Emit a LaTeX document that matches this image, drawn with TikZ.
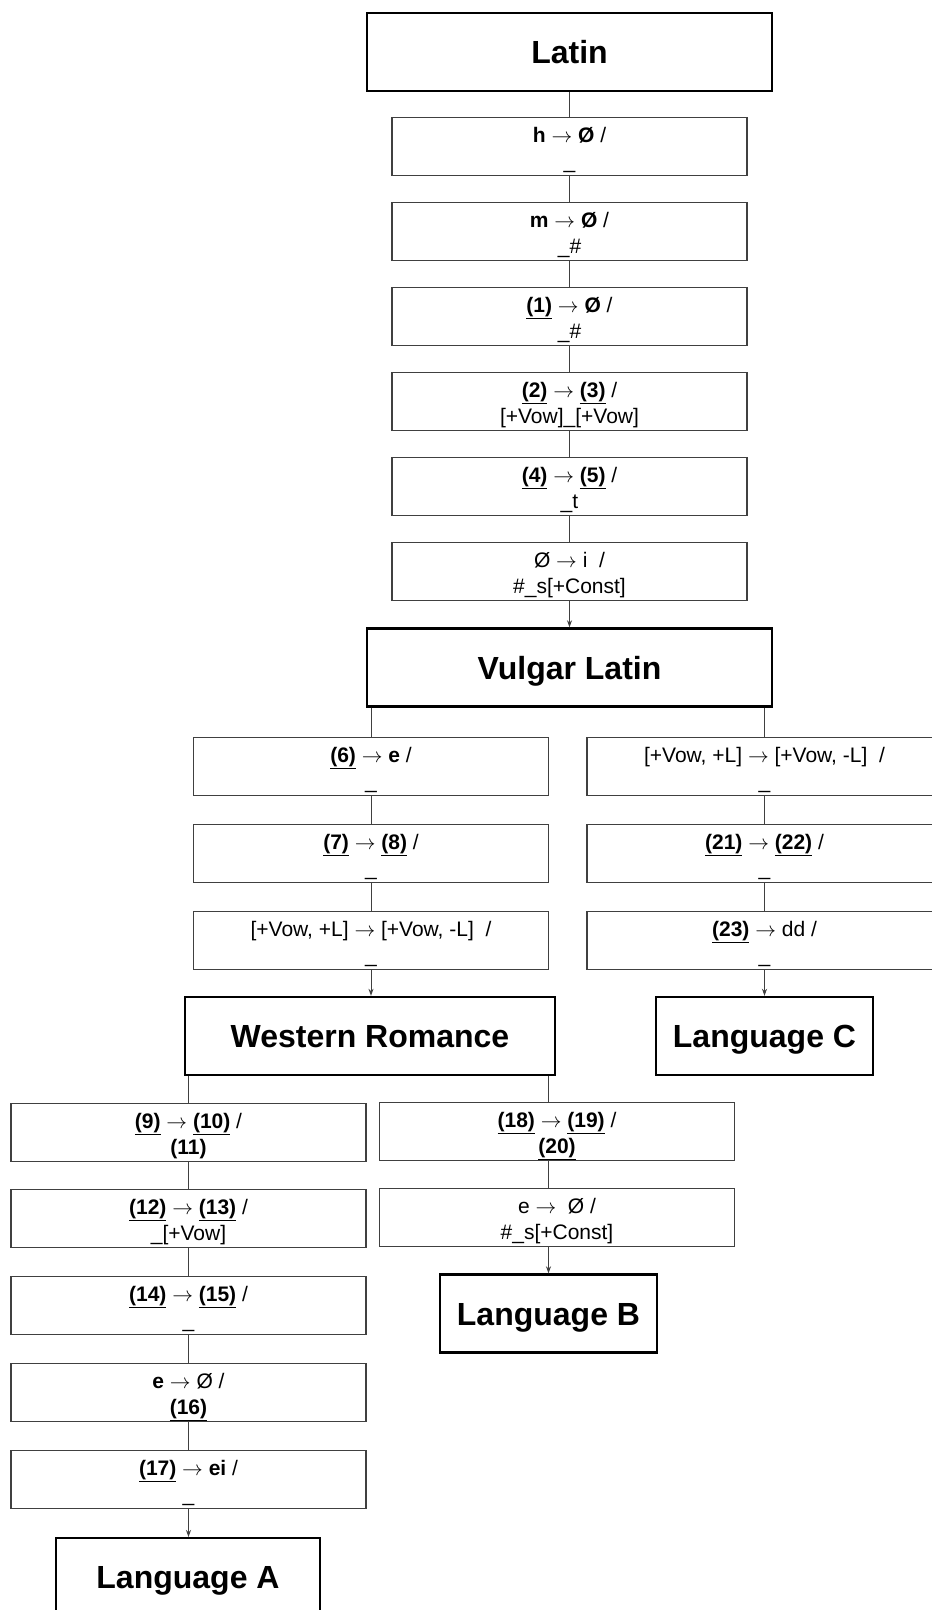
\documentclass[tikz,border=0pt]{standalone}
\usepackage{fontspec}
\setmainfont{Liberation Sans}
\usetikzlibrary{arrows.meta,calc}
\newcommand{\un}[1]{\underline{\textbf{#1}}}
\newcommand{\rarr}{$\rightarrow$}
\newcommand{\rbox}[5]{%
  \node[smallbox, anchor=north] (#1) at (#2,#3) {};
  \node[rtext] (#1a) at ($(#1.north)+(0,25)$) {#4};
  \node[rtext] (#1b) at ($(#1.north)+(0,51)$) {#5};
}
\tikzset{
  smallbox/.style={draw=black!75, line width=1.1pt, minimum width=355pt, minimum height=58pt, inner sep=0pt},
  bigbox/.style={draw=black, line width=2.4pt, minimum height=78pt, inner sep=0pt,
    font=\fontsize{32}{36}\selectfont\bfseries, text height=23pt, text depth=0pt},
  rtext/.style={anchor=base, inner sep=0pt, font=\fontsize{21}{25}\selectfont},
  link/.style={draw=black!75, line width=1pt},
  arr/.style={link, -{Stealth[length=7pt,width=5pt]}},
}
\begin{document}
\begin{tikzpicture}[x=1pt,y=-1pt]
\clip (0,0) rectangle (932,1610);
\fill[white] (0,0) rectangle (932,1610);

% top
\node[bigbox, minimum width=405pt] (latin) at (569.5,52) {Latin};
\rbox{h}{569.5}{117}{\textbf{h} \rarr{} \textbf{Ø} /}{\_}
\rbox{m}{569.5}{202}{\textbf{m} \rarr{} \textbf{Ø} /}{\_\#}
\rbox{t1}{569.5}{287}{\un{(1)} \rarr{} \textbf{Ø} /}{\_\#}
\rbox{t2}{569.5}{372}{\un{(2)} \rarr{} \un{(3)} /}{[+Vow]\_[+Vow]}
\rbox{t4}{569.5}{457}{\un{(4)} \rarr{} \un{(5)} /}{\_t}
\rbox{ti}{569.5}{542}{Ø \rarr{} i~ /}{\#\_s[+Const]}
\node[bigbox, minimum width=405pt] (vl) at (569.5,667.5) {Vulgar Latin};

% vulgar latin left
\rbox{v1}{371}{737}{\un{(6)} \rarr{} \textbf{e} /}{\_}
\rbox{v2}{371}{824}{\un{(7)} \rarr{} \un{(8)} /}{\_}
\rbox{v3}{371}{911}{[+Vow, +L] \rarr{} [+Vow, -L]~ /}{\_}
% vulgar latin right
\rbox{w1}{764.5}{737}{[+Vow, +L] \rarr{} [+Vow, -L]~ /}{\_}
\rbox{w2}{764.5}{824}{\un{(21)} \rarr{} \un{(22)} /}{\_}
\rbox{w3}{764.5}{911}{\un{(23)} \rarr{} dd /}{\_}

\node[bigbox, minimum width=370pt] (wr) at (370,1036) {Western Romance};
\node[bigbox, minimum width=217pt] (lc) at (764.5,1036) {Language C};

% western romance left
\rbox{a1}{188.5}{1103}{\un{(9)} \rarr{} \un{(10)} /}{\textbf{(11)}}
\rbox{a2}{188.5}{1189}{\un{(12)} \rarr{} \un{(13)} /}{\_[+Vow]}
\rbox{a3}{188.5}{1276}{\un{(14)} \rarr{} \un{(15)} /}{\_}
\rbox{a4}{188.5}{1363}{\textbf{e} \rarr{} Ø /}{\un{(16)}}
\rbox{a5}{188.5}{1450}{\un{(17)} \rarr{} \textbf{ei} /}{\_}
\node[bigbox, minimum width=264pt, anchor=north] (la) at (188,1537) {Language A};

% western romance right
\rbox{c1}{557}{1102}{\un{(18)} \rarr{} \un{(19)} /}{\un{(20)}}
\rbox{c2}{557}{1188}{e \rarr{}~ Ø /}{\#\_s[+Const]}
\node[bigbox, minimum width=217pt] (lb) at (548.5,1313.5) {Language B};

% connectors
\draw[link] (latin.south) -- (h.north);
\draw[link] (h.south) -- (m.north);
\draw[link] (m.south) -- (t1.north);
\draw[link] (t1.south) -- (t2.north);
\draw[link] (t2.south) -- (t4.north);
\draw[link] (t4.south) -- (ti.north);
\draw[arr] (ti.south) -- (vl.north);

\draw[link] (vl.south -| v1.north) -- (v1.north);
\draw[link] (v1.south) -- (v2.north);
\draw[link] (v2.south) -- (v3.north);
\draw[arr] (v3.south) -- (v3.south |- wr.north);

\draw[link] (vl.south -| w1.north) -- (w1.north);
\draw[link] (w1.south) -- (w2.north);
\draw[link] (w2.south) -- (w3.north);
\draw[arr] (w3.south) -- (w3.south |- lc.north);

\draw[link] (wr.south -| a1.north) -- (a1.north);
\draw[link] (a1.south) -- (a2.north);
\draw[link] (a2.south) -- (a3.north);
\draw[link] (a3.south) -- (a4.north);
\draw[link] (a4.south) -- (a5.north);
\draw[arr] (a5.south) -- (a5.south |- la.north);

\draw[link] (wr.south -| lb.north) -- (c1.north -| lb.north);
\draw[link] (c1.south -| lb.north) -- (c2.north -| lb.north);
\draw[arr] (c2.south -| lb.north) -- (lb.north);
\end{tikzpicture}
\end{document}
